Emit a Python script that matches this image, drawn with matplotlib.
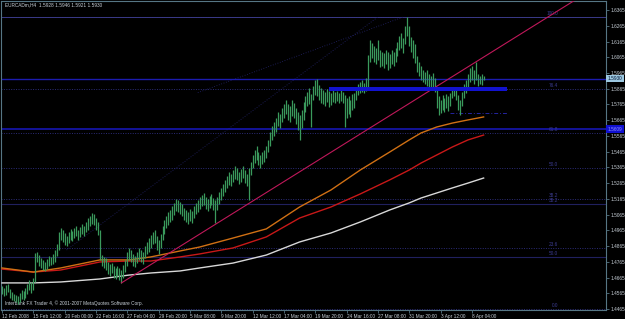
import numpy as np
import matplotlib.pyplot as plt
from matplotlib.transforms import blended_transform_factory

plt.rcParams['font.family'] = ['Liberation Sans Narrow', 'Liberation Sans', 'DejaVu Sans']

# header / footer text
symbol_line = "EURCADm,H4  1.5928 1.5946 1.5921 1.5930"
credit_line = "Interbank FX Trader 4, \u00a9 2001-2007 MetaQuotes Software Corp."

# H4 bars (high / low)
bar_high = [
    1.4612, 1.4600, 1.4619, 1.4625, 1.4593, 1.4574, 1.4562, 1.4555, 1.4549, 1.4568,
    1.4587, 1.4581, 1.4600, 1.4625, 1.4651, 1.4638, 1.4663, 1.4822, 1.4828, 1.4809,
    1.4790, 1.4778, 1.4765, 1.4784, 1.4803, 1.4797, 1.4816, 1.4841, 1.4879, 1.4955,
    1.4981, 1.4968, 1.4949, 1.4930, 1.4955, 1.4975, 1.4962, 1.4981, 1.4994, 1.4968,
    1.4987, 1.5006, 1.4994, 1.5019, 1.5044, 1.5057, 1.5076, 1.5070, 1.5044, 1.5019,
    1.4968, 1.4809, 1.4797, 1.4790, 1.4765, 1.4752, 1.4758, 1.4739, 1.4727, 1.4739,
    1.4727, 1.4714, 1.4746, 1.4778, 1.4828, 1.4854, 1.4841, 1.4816, 1.4803, 1.4828,
    1.4854, 1.4841, 1.4828, 1.4867, 1.4892, 1.4917, 1.4936, 1.4955, 1.4968, 1.4930,
    1.4905, 1.4943, 1.4994, 1.5032, 1.5057, 1.5083, 1.5095, 1.5121, 1.5140, 1.5165,
    1.5159, 1.5146, 1.5133, 1.5108, 1.5095, 1.5083, 1.5102, 1.5089, 1.5121, 1.5140,
    1.5159, 1.5178, 1.5190, 1.5203, 1.5178, 1.5165, 1.5184, 1.5197, 1.5171, 1.5159,
    1.5178, 1.5209, 1.5235, 1.5260, 1.5286, 1.5311, 1.5336, 1.5324, 1.5349, 1.5374,
    1.5362, 1.5336, 1.5355, 1.5374, 1.5349, 1.5324, 1.5362, 1.5400, 1.5444, 1.5476,
    1.5501, 1.5463, 1.5444, 1.5463, 1.5476, 1.5501, 1.5540, 1.5590, 1.5628, 1.5654,
    1.5679, 1.5717, 1.5705, 1.5743, 1.5768, 1.5794, 1.5768, 1.5755, 1.5794, 1.5775,
    1.5743, 1.5717, 1.5698, 1.5730, 1.5781, 1.5819, 1.5844, 1.5870, 1.5832, 1.5883,
    1.5921, 1.5927, 1.5889, 1.5870, 1.5857, 1.5844, 1.5864, 1.5851, 1.5838, 1.5857,
    1.5844, 1.5851, 1.5838, 1.5857, 1.5844, 1.5825, 1.5806, 1.5819, 1.5794, 1.5832,
    1.5838, 1.5870, 1.5895, 1.5908, 1.5921, 1.5901, 1.5933, 1.6079, 1.6175, 1.6155,
    1.6137, 1.6124, 1.6175, 1.6111, 1.6098, 1.6092, 1.6111, 1.6098, 1.6086, 1.6111,
    1.6098, 1.6124, 1.6162, 1.6200, 1.6219, 1.6187, 1.6263, 1.6321, 1.6263, 1.6194,
    1.6175, 1.6149, 1.6073, 1.6035, 1.6010, 1.5984, 1.5971, 1.5984, 1.5959, 1.5946,
    1.5965, 1.5933, 1.5857, 1.5819, 1.5794, 1.5825, 1.5806, 1.5832, 1.5819, 1.5838,
    1.5870, 1.5876, 1.5864, 1.5825, 1.5794, 1.5844, 1.5895, 1.5921, 1.5959, 1.5997,
    1.6010, 1.5984, 1.6035, 1.5959, 1.5946, 1.5959, 1.5946,
]
bar_low = [
    1.4562, 1.4549, 1.4555, 1.4574, 1.4536, 1.4524, 1.4517, 1.4511, 1.4498, 1.4511,
    1.4530, 1.4524, 1.4536, 1.4562, 1.4587, 1.4568, 1.4587, 1.4638, 1.4765, 1.4739,
    1.4727, 1.4714, 1.4708, 1.4720, 1.4739, 1.4746, 1.4752, 1.4765, 1.4803, 1.4841,
    1.4905, 1.4892, 1.4873, 1.4867, 1.4886, 1.4905, 1.4898, 1.4917, 1.4930, 1.4905,
    1.4924, 1.4943, 1.4930, 1.4955, 1.4968, 1.4994, 1.5006, 1.5000, 1.4968, 1.4936,
    1.4778, 1.4739, 1.4727, 1.4714, 1.4689, 1.4676, 1.4695, 1.4663, 1.4657, 1.4676,
    1.4651, 1.4632, 1.4663, 1.4701, 1.4739, 1.4778, 1.4765, 1.4739, 1.4733, 1.4758,
    1.4778, 1.4765, 1.4752, 1.4790, 1.4816, 1.4828, 1.4854, 1.4879, 1.4886, 1.4841,
    1.4816, 1.4854, 1.4905, 1.4943, 1.4981, 1.5000, 1.5019, 1.5032, 1.5064, 1.5089,
    1.5083, 1.5070, 1.5057, 1.5032, 1.5019, 1.5006, 1.5025, 1.5013, 1.5044, 1.5070,
    1.5083, 1.5102, 1.5121, 1.5127, 1.5102, 1.5089, 1.5108, 1.5127, 1.5095, 1.5013,
    1.5095, 1.5133, 1.5159, 1.5184, 1.5209, 1.5235, 1.5254, 1.5248, 1.5273, 1.5292,
    1.5286, 1.5260, 1.5273, 1.5298, 1.5266, 1.5248, 1.5159, 1.5317, 1.5362, 1.5393,
    1.5413, 1.5381, 1.5362, 1.5387, 1.5400, 1.5425, 1.5463, 1.5501, 1.5540, 1.5565,
    1.5590, 1.5628, 1.5616, 1.5654, 1.5679, 1.5705, 1.5667, 1.5654, 1.5692, 1.5679,
    1.5641, 1.5603, 1.5540, 1.5616, 1.5667, 1.5717, 1.5755, 1.5768, 1.5622, 1.5794,
    1.5825, 1.5819, 1.5794, 1.5775, 1.5768, 1.5755, 1.5781, 1.5749, 1.5762, 1.5781,
    1.5775, 1.5787, 1.5775, 1.5787, 1.5775, 1.5622, 1.5679, 1.5705, 1.5686, 1.5730,
    1.5743, 1.5794, 1.5825, 1.5838, 1.5844, 1.5838, 1.5851, 1.5870, 1.6035, 1.6060,
    1.6035, 1.6022, 1.6048, 1.6003, 1.6010, 1.5997, 1.6022, 1.5984, 1.5997, 1.6022,
    1.6010, 1.6035, 1.6073, 1.6111, 1.6124, 1.6092, 1.6149, 1.6200, 1.6137, 1.6098,
    1.6060, 1.6029, 1.5971, 1.5946, 1.5921, 1.5908, 1.5895, 1.5883, 1.5870, 1.5857,
    1.5876, 1.5844, 1.5743, 1.5698, 1.5711, 1.5730, 1.5717, 1.5743, 1.5724, 1.5755,
    1.5806, 1.5819, 1.5794, 1.5730, 1.5698, 1.5755, 1.5806, 1.5838, 1.5870, 1.5908,
    1.5921, 1.5895, 1.5921, 1.5883, 1.5895, 1.5889, 1.5921,
]
bid_price = 1.5930

# moving averages sampled at these bars
ma_bars = [0, 16, 30, 50, 65, 76, 91, 101, 118, 135, 152, 168, 183, 198, 208, 214, 222, 230, 238, 246]
ma_orange = [1.4727, 1.4701, 1.4727, 1.4778, 1.4778, 1.4797, 1.4835, 1.4860, 1.4917, 1.4975,
             1.5114, 1.5222, 1.5349, 1.5463, 1.5540, 1.5584, 1.5622, 1.5647, 1.5667, 1.5686]
ma_red = [1.4720, 1.4701, 1.4714, 1.4765, 1.4771, 1.4771, 1.4797, 1.4816, 1.4854, 1.4924,
          1.5044, 1.5114, 1.5197, 1.5286, 1.5349, 1.5393, 1.5444, 1.5495, 1.5540, 1.5571]
ma_white = [1.4632, 1.4632, 1.4638, 1.4657, 1.4682, 1.4695, 1.4708, 1.4727, 1.4758, 1.4809,
            1.4892, 1.4949, 1.5019, 1.5095, 1.5140, 1.5171, 1.5203, 1.5235, 1.5266, 1.5298]

date_labels = ["12 Feb 2008", "15 Feb 12:00", "20 Feb 00:00", "22 Feb 16:00", "27 Feb 04:00",
               "29 Feb 20:00", "5 Mar 08:00", "9 Mar 20:00", "12 Mar 12:00", "17 Mar 04:00",
               "19 Mar 20:00", "24 Mar 16:00", "27 Mar 08:00", "31 Mar 20:00", "3 Apr 12:00",
               "8 Apr 04:00"]
date_bars = [0, 16, 32, 48, 64, 80, 96, 112, 128, 144, 160, 176, 192, 208, 224, 240]

# fibonacci levels (dotted) and second set (solid)
fibo_prices = [1.6321, 1.5864, 1.5584, 1.5362, 1.5165, 1.4854, 1.4466]
fibo_names = ["100.0", "76.4", "61.8", "50.0", "38.2", "23.6", "0.0"]
fibo2_prices = [1.5133, 1.4797]
fibo2_names = ["38.2", "50.0"]
hline_price = 1.5609

# objects drawn on the chart
zone_bars = [167, 258]
zone_prices = [1.5851, 1.5876]
support_bars = [229, 258]
support_price = 1.5711
trend_bars = [61, 222]
trend_prices = [1.4632, 1.5880]
diag1_bars = [33, 192]
diag1_prices = [1.4841, 1.6321]
diag2_bars = [100, 205]
diag2_prices = [1.5840, 1.6321]

BG = "black"
GRID = "#567684"
TXT = "#c8d0d8"
FIB = "#2c2c78"
FS = 3.4

fig = plt.figure(figsize=(6.25, 3.19), dpi=100, facecolor=BG)
ax = fig.add_axes([1 / 625, 9 / 319, 605 / 625, 309 / 319], facecolor=BG)

# levels
for p in fibo_prices:
    ax.axhline(p, color=FIB, lw=0.7, ls=(0, (1, 1.5)), zorder=1)
ax.axhline(fibo_prices[0], color="#3a3a88", lw=0.7, zorder=1)
for p in fibo2_prices:
    ax.axhline(p, color="#20205e", lw=0.8, zorder=1)
ax.axhline(hline_price, color="#1818c0", lw=1.1, zorder=2)
ax.axhline(bid_price, color="#1c1cb0", lw=1.0, zorder=2)

for p, n in zip(fibo_prices + fibo2_prices, fibo_names + fibo2_names):
    ax.text(284, p + 0.0005, n, color="#3c3c90", fontsize=FS, ha="right", va="bottom", zorder=3)

ax.plot(diag1_bars, diag1_prices, color="#24246c", lw=0.6, ls=(0, (1, 2)), zorder=1)
ax.plot(diag2_bars, diag2_prices, color="#24246c", lw=0.6, ls=(0, (1, 2)), zorder=1)
ax.plot(support_bars, [support_price, support_price], color="#2424a0", lw=0.7,
        ls=(0, (4, 2, 1, 2)), zorder=2)

# moving averages
ax.plot(ma_bars, ma_white, color="#d8d8d8", lw=1.0, zorder=3)
ax.plot(ma_bars, ma_red, color="#c81818", lw=1.0, zorder=3)
ax.plot(ma_bars, ma_orange, color="#d07014", lw=1.0, zorder=3)

# price bars
idx = np.arange(len(bar_high))
ax.vlines(idx, bar_low, bar_high, color="#3a9a5c", lw=0.9, zorder=4)

# trend line (ray to the right)
slope = (trend_prices[1] - trend_prices[0]) / (trend_bars[1] - trend_bars[0])
ax.plot([trend_bars[0], 330], [trend_prices[0], trend_prices[0] + slope * (330 - trend_bars[0])],
        color="#c0185a", lw=0.8, zorder=5)

# blue zone
ax.fill_between(zone_bars, zone_prices[0], zone_prices[1], color="#1212d0", lw=0, zorder=6)

ax.set_xlim(-0.5, 308.5)
ax.set_ylim(1.4460, 1.64222)

ax.yaxis.tick_right()
yt = np.arange(1.4465, 1.6366, 0.01)
ax.set_yticks(yt)
ax.set_yticklabels(["%.4f" % v for v in yt])
ax.set_xticks(date_bars)
ax.set_xticklabels(date_labels, ha="left")
ax.tick_params(axis="both", colors=GRID, labelcolor=TXT, labelsize=FS, length=2, width=0.6)
ax.tick_params(axis="y", pad=1.0)
ax.tick_params(axis="x", pad=0.8)
for s in ax.spines.values():
    s.set_color(GRID)
    s.set_linewidth(0.8)

# price labels on the scale
tr = blended_transform_factory(ax.transAxes, ax.transData)
ax.text(1.003, bid_price, "%.4f" % bid_price, transform=tr, fontsize=FS, color="#001030",
        va="center", ha="left", zorder=10, clip_on=False,
        bbox=dict(boxstyle="square,pad=0.3", fc="#9cc8e0", ec="none"))
ax.text(1.003, hline_price, "%.4f" % hline_price, transform=tr, fontsize=FS, color="#9090ff",
        va="center", ha="left", zorder=10, clip_on=False,
        bbox=dict(boxstyle="square,pad=0.3", fc="#1010d0", ec="none"))

ax.text(0.006, 0.995, symbol_line, transform=ax.transAxes, fontsize=FS, color=TXT,
        ha="left", va="top")
ax.text(0.006, 0.012, credit_line, transform=ax.transAxes, fontsize=FS, color=TXT,
        ha="left", va="bottom")

fig.savefig("out.png", dpi=100, facecolor=BG)
